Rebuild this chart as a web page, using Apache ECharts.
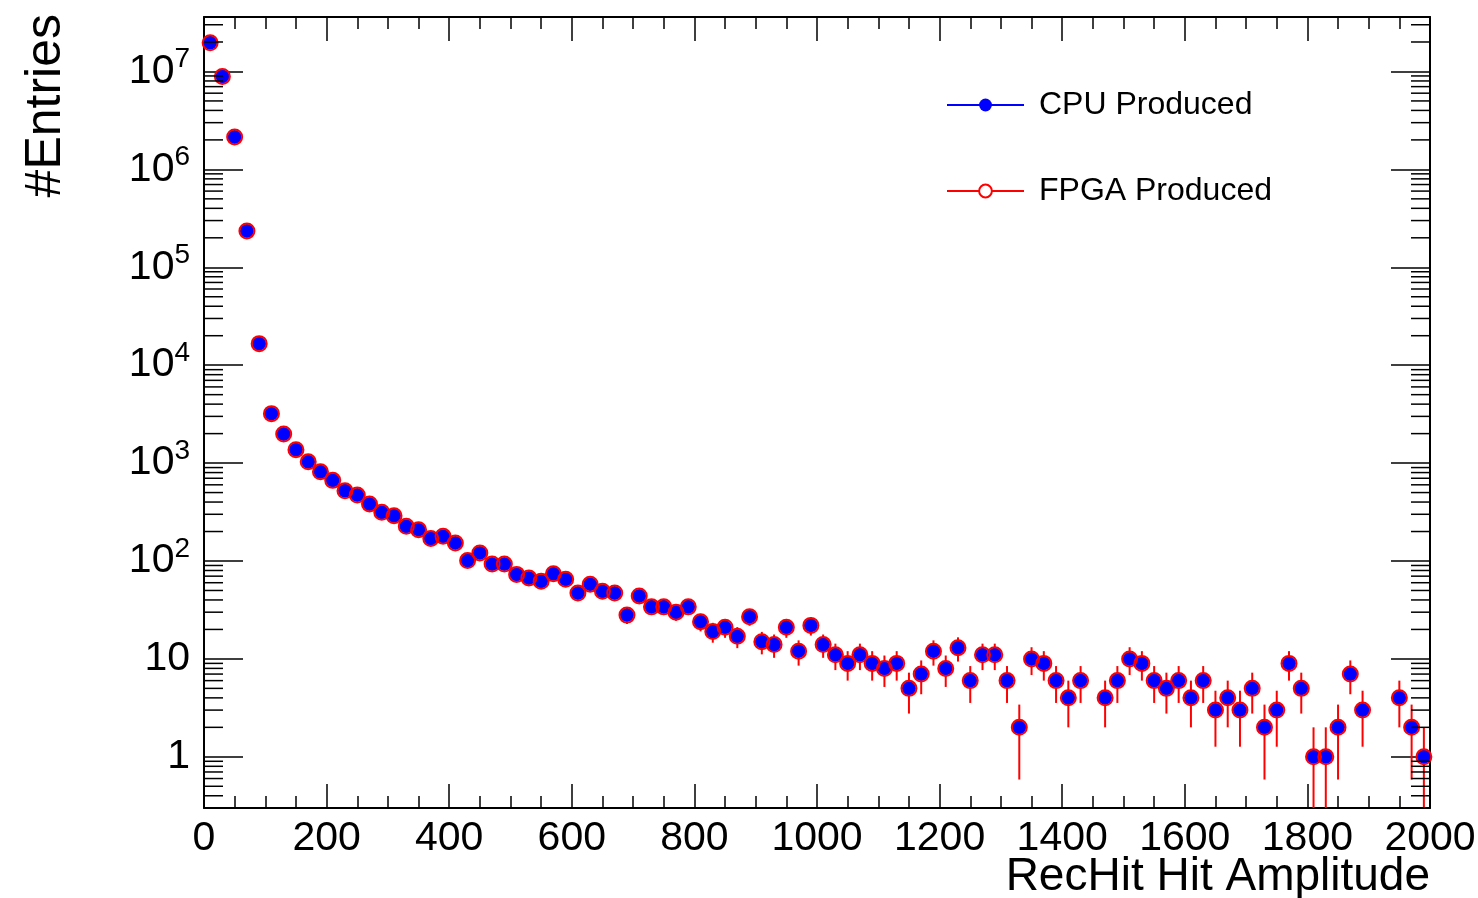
<!DOCTYPE html>
<html>
<head>
<meta charset="utf-8">
<title>RecHit Hit Amplitude</title>
<script src="https://cdn.jsdelivr.net/npm/echarts@6/dist/echarts.min.js"></script>
<style>
	html, body { margin: 0; padding: 0; background: #ffffff; }
	#chart { width: 1478px; height: 898px; }
</style>
</head>
<body>
<div id="chart"></div>
<script>
// histogram binning: 100 bins of width 20 from 0 to 2000
const binLow = 0;
const binWidth = 20;

// entries per bin (null = empty bin)
const cpuCounts = [
	1.96e7, 8.9e6, 2.14e6, 2.35e5, 1.66e4, 3200, 1980, 1370, 1030, 815,
	666, 521, 471, 382, 314, 290, 226, 209, 170, 179,
	153, 101, 121, 93, 93, 73, 67, 62, 74, 65,
	47, 58, 49, 47, 28, 44, 34, 34, 30, 34,
	24, 19, 21, 17, 27, 15, 14, 21, 12, 22,
	14, 11, 9, 11, 9, 8, 9, 5, 7, 12,
	8, 13, 6, 11, 11, 6, 2, 10, 9, 6,
	4, 6, null, 4, 6, 10, 9, 6, 5, 6,
	4, 6, 3, 4, 3, 5, 2, 3, 9, 5,
	1, 1, 2, 7, 3, null, null, 4, 2, 1
];
const fpgaCounts = cpuCounts.slice();

const seriesNames = ['CPU Produced', 'FPGA Produced'];
const xTitle = 'RecHit Hit Amplitude';
const yTitle = '#Entries';

const xMin = 0, xMax = 2000, xStep = 200;
const yMin = 0.3, yMax = 3.6e7;

const fontFamily = "'Liberation Sans', Arimo, Helvetica, Arial, sans-serif";

function toPoints(counts)
{
	let pts = [];
	counts.forEach((c, i) =>
	{
		if (c != null) pts.push([binLow + binWidth * (i + 0.5), c]);
	});
	return pts;
}

// minor ticks of the log axis: 2..9 x 10^n
let yMinorTicks = [];
for (let n = -1; n <= 7; n++)
{
	for (let m = 2; m <= 9; m++)
	{
		let v = m * Math.pow(10, n);
		if (v > yMin && v < yMax) yMinorTicks.push([xMin, v]);
	}
}

// sqrt(N) error bars, the same for both samples, so only the top (red) one shows
function errorBars(name, counts, color, z)
{
	return {
		type: 'custom',
		name: name,
		z: z,
		silent: true,
		clip: true,
		data: toPoints(counts),
		renderItem: (params, api) =>
		{
			let x = api.value(0);
			let v = api.value(1);
			let e = Math.sqrt(v);
			let top = api.coord([x, Math.min(v + e, yMax)]);
			let bottomY = (v - e) > yMin ? api.coord([x, v - e])[1] : params.coordSys.y + params.coordSys.height;
			return {
				type: 'line',
				shape: { x1: top[0], y1: top[1], x2: top[0], y2: bottomY },
				style: { stroke: color, lineWidth: 2 }
			};
		}
	};
}

let chart = echarts.init(document.getElementById('chart'), null, { renderer: 'canvas' });

let xAxisBase = {
	type: 'value',
	min: xMin,
	max: xMax,
	interval: xStep,
	axisLine: { show: true, onZero: false, lineStyle: { color: '#000', width: 2 } },
	axisTick: { show: true, inside: true, length: 24, lineStyle: { color: '#000', width: 1.5 } },
	minorTick: { show: true, splitNumber: 4, length: 12, lineStyle: { color: '#000', width: 1.5 } },
	splitLine: { show: false },
	minorSplitLine: { show: false }
};

let yAxisBase = {
	type: 'log',
	logBase: 10,
	min: yMin,
	max: yMax,
	axisLine: { show: true, onZero: false, lineStyle: { color: '#000', width: 2 } },
	axisTick: { show: true, inside: true, length: 39, lineStyle: { color: '#000', width: 1.5 } },
	splitLine: { show: false }
};

let option = {
	backgroundColor: '#ffffff',
	animation: false,
	textStyle: { fontFamily: fontFamily },
	grid: { left: 204, right: 48, top: 17, bottom: 90, containLabel: false, outerBoundsMode: 'none' },
	legend: {
		orient: 'vertical',
		left: 941,
		top: 84,
		itemWidth: 77,
		itemHeight: 16,
		itemGap: 54,
		selectedMode: false,
		textStyle: { fontSize: 32, color: '#000', fontFamily: fontFamily, padding: [0, 0, 0, 10] },
		data: [
			{ name: seriesNames[0], lineStyle: { color: '#0000ff', width: 2, opacity: 1 } },
			{ name: seriesNames[1], lineStyle: { color: '#ff0000', width: 2, opacity: 1 }, itemStyle: { color: '#ffffff', borderColor: '#ff0000', borderWidth: 2 } }
		]
	},
	xAxis: [
		Object.assign({}, xAxisBase, {
			position: 'bottom',
			axisLabel: { show: true, margin: 10, fontSize: 41, color: '#000', formatter: (v) => String(v) }
		}),
		Object.assign({}, xAxisBase, {
			position: 'top',
			axisLabel: { show: false }
		})
	],
	yAxis: [
		Object.assign({}, yAxisBase, {
			position: 'left',
			axisLabel: {
				show: true,
				margin: 14,
				fontSize: 41,
				color: '#000',
				showMinLabel: false,
				showMaxLabel: false,
				formatter: (value) =>
				{
					let n = Math.round(Math.log10(value));
					if (Math.abs(Math.log10(value) - n) > 1e-6) return '';
					if (n === 0) return '1';
					if (n === 1) return '10';
					return '10{sup|' + n + '}';
				},
				rich: {
					sup: { fontSize: 28, color: '#000', padding: [0, 0, 24, 0] }
				}
			}
		}),
		Object.assign({}, yAxisBase, {
			position: 'right',
			axisLabel: { show: false }
		})
	],
	graphic: [
		{
			type: 'text',
			x: 46,
			y: 14,
			rotation: Math.PI / 2,
			style: { text: yTitle, font: '50px ' + fontFamily, fill: '#000', align: 'right', verticalAlign: 'middle' }
		},
		{
			type: 'text',
			x: 1430,
			y: 877,
			style: { text: xTitle, font: '46px ' + fontFamily, fill: '#000', align: 'right', verticalAlign: 'middle' }
		}
	],
	series: [
		{
			// minor ticks of the log axis on both frame sides
			type: 'custom',
			name: 'yMinor',
			silent: true,
			z: 5,
			data: yMinorTicks,
			renderItem: (params, api) =>
			{
				let l = api.coord([xMin, api.value(1)]);
				let r = api.coord([xMax, api.value(1)]);
				return {
					type: 'group',
					children: [
						{ type: 'line', shape: { x1: l[0], y1: l[1], x2: l[0] + 19, y2: l[1] }, style: { stroke: '#000', lineWidth: 1.5 } },
						{ type: 'line', shape: { x1: r[0], y1: r[1], x2: r[0] - 19, y2: r[1] }, style: { stroke: '#000', lineWidth: 1.5 } }
					]
				};
			}
		},
		errorBars('fpgaErrors', fpgaCounts, '#ff0000', 2),
		{
			type: 'line',
			name: seriesNames[0],
			z: 3,
			data: toPoints(cpuCounts),
			symbol: 'circle',
			symbolSize: 14,
			showSymbol: true,
			connectNulls: false,
			itemStyle: { color: '#0000ff' },
			lineStyle: { color: '#0000ff', opacity: 0 },
			emphasis: { disabled: true }
		},
		{
			type: 'line',
			name: seriesNames[1],
			z: 4,
			data: toPoints(fpgaCounts),
			symbol: 'circle',
			symbolSize: 15,
			showSymbol: true,
			connectNulls: false,
			itemStyle: { color: 'rgba(0,0,0,0)', borderColor: '#ff0000', borderWidth: 2 },
			lineStyle: { color: '#ff0000', opacity: 0 },
			emphasis: { disabled: true }
		}
	]
};

chart.setOption(option);
</script>
</body>
</html>
